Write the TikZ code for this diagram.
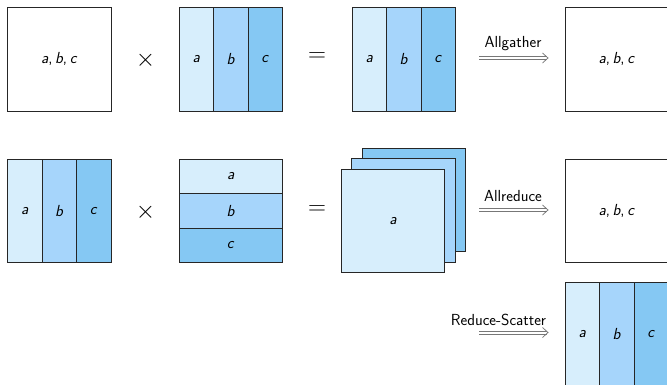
\documentclass[tikz,border=0pt]{standalone}
\definecolor{shA}{HTML}{D7EEFC}
\definecolor{shB}{HTML}{A6D5FB}
\definecolor{shC}{HTML}{85C8F3}
\definecolor{edge}{HTML}{262626}
\definecolor{arrowgray}{HTML}{777777}
\tikzset{
  x=1pt, y=-1pt,
  lbl/.style={font=\sffamily\fontsize{16}{19}\selectfont},
  mat/.style={draw=edge, line width=0.9pt, inner sep=0pt, minimum width=103.5pt, minimum height=103.5pt, fill=white, lbl},
  vcell/.style={draw=edge, line width=0.9pt, inner sep=0pt, minimum width=34.5pt, minimum height=103.5pt, lbl},
  hcell/.style={draw=edge, line width=0.9pt, inner sep=0pt, minimum width=103.5pt, minimum height=34.5pt, lbl},
  opsym/.style={inner sep=0pt, font=\fontsize{27}{32}\selectfont},
  rail/.style={draw=arrowgray, line width=0.65pt},
  barb/.style={draw=arrowgray, line width=0.75pt, line join=miter},
  oplabel/.style={lbl, anchor=base, inner sep=0pt}
}
% a double-railed arrow from #1 to #2
\newcommand{\railarrow}[2]{%
  \draw[rail] ([yshift=1.5pt]#1) -- ([xshift=-1.5pt,yshift=1.5pt]#2);
  \draw[rail] ([yshift=-1.5pt]#1) -- ([xshift=-1.5pt,yshift=-1.5pt]#2);
  \draw[barb] ([shift={(-5.5,-5)}]#2) -- (#2) -- ([shift={(-5.5,5)}]#2);}
\newcommand{\abc}{\textit{a},\,\textit{b},\,\textit{c}}
\begin{document}
\begin{tikzpicture}
\useasboundingbox (0,0) rectangle (667,384);

% ---- Allgather row ----
\node[mat] (m1) at (59.25,59.25) {\abc};
\node[opsym] (t1) at (145.5,60) {$\times$};
\node[vcell, fill=shA] (p1a) at (196.25,59.25) {\textit{a}};
\node[vcell, fill=shB] (p1b) at (230.75,59.25) {\textit{b}};
\node[vcell, fill=shC] (p1c) at (265.25,59.25) {\textit{c}};
\node[opsym] (e1) at (317,57.5) {$=$};
\node[vcell, fill=shA] (r1a) at (369.25,59.25) {\textit{a}};
\node[vcell, fill=shB] (r1b) at (403.75,59.25) {\textit{b}};
\node[vcell, fill=shC] (r1c) at (438.25,59.25) {\textit{c}};
\node[oplabel] (ag) at (513,47) {Allgather};
\coordinate (agS) at (479,58);
\coordinate (agE) at (548,58);
\railarrow{agS}{agE}
\node[mat] (o1) at (616.75,59.25) {\abc};

% ---- Allreduce row ----
\node[vcell, fill=shA] (q2a) at (24.75,211) {\textit{a}};
\node[vcell, fill=shB] (q2b) at (59.25,211) {\textit{b}};
\node[vcell, fill=shC] (q2c) at (93.75,211) {\textit{c}};
\node[opsym] (t2) at (145.5,212) {$\times$};
\node[hcell, fill=shA] (w2a) at (230.75,176.5) {\textit{a}};
\node[hcell, fill=shB] (w2b) at (230.75,211) {\textit{b}};
\node[hcell, fill=shC] (w2c) at (230.75,245.5) {\textit{c}};
\node[opsym] (e2) at (317,210) {$=$};
\node[mat, fill=shC] (s3) at (414,200) {};
\node[mat, fill=shB] (s2) at (403.5,210.5) {};
\node[mat, fill=shA] (s1) at (393,221) {\textit{a}};
\node[oplabel] (ar) at (513,201) {Allreduce};
\coordinate (arS) at (479,210);
\coordinate (arE) at (548,210);
\railarrow{arS}{arE}
\node[mat] (o2) at (616.75,211) {\abc};

% ---- Reduce-Scatter ----
\node[oplabel] (rs) at (498.5,325) {Reduce-Scatter};
\coordinate (scS) at (479,332.5);
\coordinate (scE) at (548,332.5);
\railarrow{scS}{scE}
\node[vcell, fill=shA] (o3a) at (582.25,334) {\textit{a}};
\node[vcell, fill=shB] (o3b) at (616.75,334) {\textit{b}};
\node[vcell, fill=shC] (o3c) at (651.25,334) {\textit{c}};
\end{tikzpicture}
\end{document}
